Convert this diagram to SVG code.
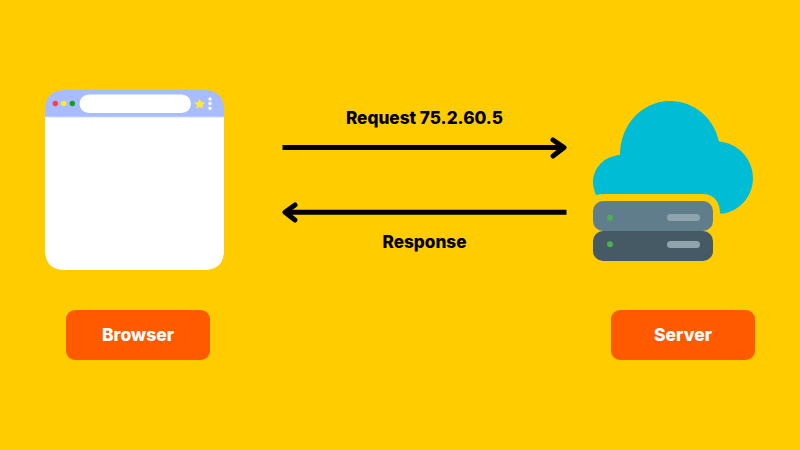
<svg xmlns="http://www.w3.org/2000/svg" width="800" height="450" viewBox="0 0 800 450">
<defs>
<style>
.t{font-family:"Inter","Liberation Sans",sans-serif;font-weight:800;text-anchor:middle}
.lbl{font-size:17.2px;fill:#000}
.btn{font-size:17.5px;fill:#fff}
.orange{fill:#ff5a00}
.conn{fill:none;stroke:#000;stroke-width:5}
.head{fill:none;stroke:#000;stroke-width:5;stroke-linecap:round;stroke-linejoin:round}
</style>
</defs>
<rect width="800" height="450" fill="#ffcc00"/>
<g id="browser-window">
<path d="M45 117V110Q45 90 65 90H204Q224 90 224 110V117Z" fill="#a9bcff"/>
<path d="M45 117H224V250Q224 270 204 270H65Q45 270 45 250Z" fill="#fff"/>
<rect x="45" y="116.700" width="179" height="1" fill="#dfe6ff"/>
<rect x="79.500" y="94.500" width="111.500" height="18.500" rx="9.250" fill="#fff"/>
<circle cx="55.300" cy="103.500" r="2.700" fill="#f74048"/>
<circle cx="63.700" cy="103.500" r="2.700" fill="#fbe83a"/>
<circle cx="72.300" cy="103.500" r="2.700" fill="#0ca60c"/>
<polygon points="199.700,98.700 201.400,102 205,102.600 202.500,105.200 203.100,108.700 199.700,107.100 196.300,108.700 196.900,105.200 194.400,102.600 198,102" fill="#fbe83a"/>
<circle cx="210" cy="99" r="1.700" fill="#fff"/>
<circle cx="210" cy="103.500" r="1.700" fill="#fff"/>
<circle cx="210" cy="108.300" r="1.700" fill="#fff"/>
</g>
<g id="server-icon">
<path d="M596 195C594 190 593 186 593 183C593 168 604 156 620 155C620 125 642 101 670 101C694 101 714 118 719 141.500C738 143 753 159 753 178C753 196 740 211 723 213.500L720 213.500C720 202 714 194 703 194H605Q600 194 596 195Z" fill="#00bcd4"/>
<rect x="593" y="201" width="120" height="30" rx="10" fill="#607d8b"/>
<rect x="593" y="231" width="120" height="30" rx="10" fill="#455a64"/>
<circle cx="610" cy="217.700" r="3" fill="#4caf50"/>
<circle cx="610" cy="244.300" r="3" fill="#4caf50"/>
<rect x="667" y="214" width="33" height="7" rx="3.500" fill="#90a4ae"/>
<rect x="667" y="241" width="33" height="7" rx="3.500" fill="#90a4ae"/>
</g>
<g id="connectors">
<path class="conn" d="M282.500 147.500H562"/>
<path class="head" d="M553 140L564 147.500L553 156"/>
<path class="conn" d="M566.500 212.300H286"/>
<path class="head" d="M295 205L285 212.300L295 220"/>
</g>
<g id="request-label"><text class="t lbl" x="424.500" y="124">Request 75.2.60.5</text></g>
<g id="response-label"><text class="t lbl" x="424.500" y="248">Response</text></g>
<g id="browser-node">
<rect class="orange" x="66" y="310" width="144" height="50" rx="9"/>
<text class="t btn" x="138" y="341">Browser</text>
</g>
<g id="server-node">
<rect class="orange" x="611" y="310" width="144" height="50" rx="9"/>
<text class="t btn" x="683" y="341">Server</text>
</g>
</svg>
